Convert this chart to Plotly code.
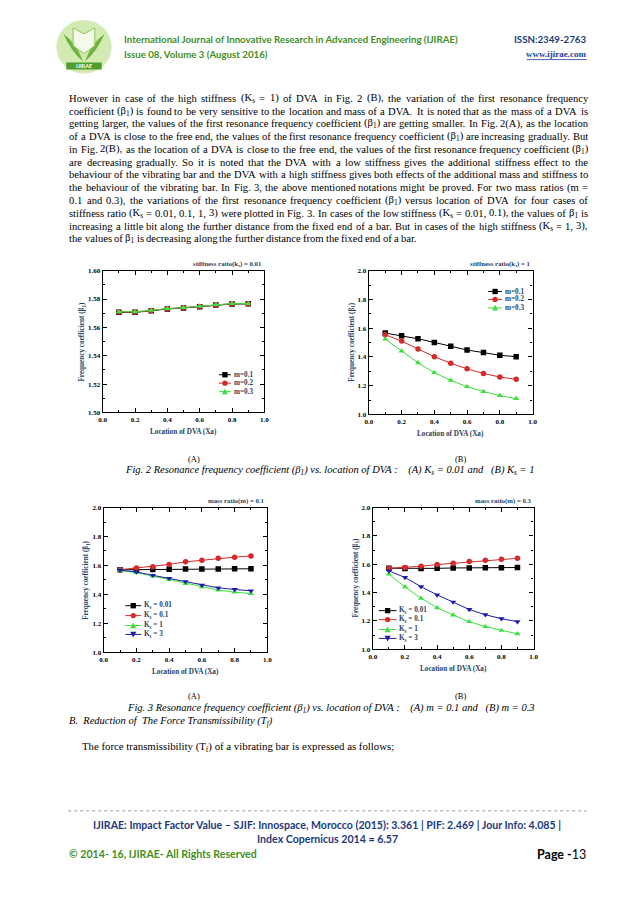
import plotly.graph_objects as go

W, H = 638, 903


def px(x):
    return x / W


def py(y):
    return 1 - y / H


# ---------------- data ----------------
x_loc = [0.1, 0.2, 0.3, 0.4, 0.5, 0.6, 0.7, 0.8, 0.9]
x_ticks = [0.0, 0.2, 0.4, 0.6, 0.8, 1.0]

# Fig. 2 (A) stiffness ratio ks = 0.01
a_m01 = [1.5706, 1.5706, 1.5717, 1.5730, 1.5737, 1.5746, 1.5758, 1.5765, 1.5766]
a_m02 = [1.5709, 1.5709, 1.5719, 1.5732, 1.5739, 1.5748, 1.5760, 1.5767, 1.5767]
a_m03 = [1.5710, 1.5710, 1.5720, 1.5733, 1.5740, 1.5749, 1.5761, 1.5768, 1.5768]

# Fig. 2 (B) stiffness ratio ks = 1
b_m01 = [1.566, 1.547, 1.526, 1.501, 1.474, 1.448, 1.430, 1.411, 1.402]
b_m02 = [1.554, 1.510, 1.455, 1.402, 1.356, 1.317, 1.285, 1.260, 1.244]
b_m03 = [1.524, 1.441, 1.359, 1.290, 1.237, 1.193, 1.159, 1.131, 1.110]

# Fig. 3 (A) mass ratio m = 0.1
c_k001 = [1.570, 1.571, 1.572, 1.574, 1.575, 1.575, 1.576, 1.577, 1.577]
c_k01 = [1.571, 1.582, 1.591, 1.607, 1.625, 1.636, 1.650, 1.657, 1.666]
c_k1 = [1.566, 1.550, 1.527, 1.502, 1.475, 1.452, 1.430, 1.416, 1.405]
c_k3 = [1.568, 1.555, 1.532, 1.511, 1.489, 1.464, 1.445, 1.434, 1.425]

# Fig. 3 (B) mass ratio m = 0.3
d_k001 = [1.572, 1.570, 1.570, 1.571, 1.574, 1.574, 1.576, 1.576, 1.577]
d_k01 = [1.572, 1.577, 1.586, 1.598, 1.607, 1.619, 1.628, 1.635, 1.642]
d_k1 = [1.530, 1.440, 1.360, 1.293, 1.242, 1.195, 1.160, 1.133, 1.109]
d_k3 = [1.553, 1.507, 1.442, 1.384, 1.333, 1.281, 1.244, 1.216, 1.195]

m_labels = ["m=0.1", "m=0.2", "m=0.3"]
k_labels = ["K<sub>s</sub> = 0.01", "K<sub>s</sub> = 0.1", "K<sub>s</sub> = 1", "K<sub>s</sub> = 3"]

BLACK, RED, GREEN, BLUE = "#000000", "#d42a2a", "#3de03d", "#1c1ca8"
SERIF = "Liberation Serif"
SANS = "Lato"

fig = go.Figure()

# panel geometry (pixels): x0, x1, y_top, y_bottom
panels = {
    "A": dict(ax="", box=(92, 256, 261, 404), yr=[1.50, 1.60], dt=0.02, mdt=0.01, fmt=".2f",
              title="stiffness ratio(k<sub>s</sub>) = 0.01"),
    "B": dict(ax="2", box=(362, 528, 261, 406), yr=[1.0, 2.0], dt=0.2, mdt=0.1, fmt=".1f",
              title="stiffness ratio(k<sub>s</sub>) = 1"),
    "C": dict(ax="3", box=(93, 259, 500, 646), yr=[1.0, 2.0], dt=0.2, mdt=0.1, fmt=".1f",
              title="mass ratio(m) = 0.1"),
    "D": dict(ax="4", box=(366, 529, 500, 643), yr=[1.0, 2.0], dt=0.2, mdt=0.1, fmt=".1f",
              title="mass ratio(m) = 0.3"),
}

series = {
    "A": [(m_labels[0], a_m01, BLACK, "square"), (m_labels[1], a_m02, RED, "circle"),
          (m_labels[2], a_m03, GREEN, "triangle-up")],
    "B": [(m_labels[0], b_m01, BLACK, "square"), (m_labels[1], b_m02, RED, "circle"),
          (m_labels[2], b_m03, GREEN, "triangle-up")],
    "C": [(k_labels[0], c_k001, BLACK, "square"), (k_labels[1], c_k01, RED, "circle"),
          (k_labels[2], c_k1, GREEN, "triangle-up"), (k_labels[3], c_k3, BLUE, "triangle-down")],
    "D": [(k_labels[0], d_k001, BLACK, "square"), (k_labels[1], d_k01, RED, "circle"),
          (k_labels[2], d_k1, GREEN, "triangle-up"), (k_labels[3], d_k3, BLUE, "triangle-down")],
}

annotations = []
shapes = []

tickfont = dict(family=SERIF, size=7, color="black", weight="bold")

for key, p in panels.items():
    ax = p["ax"]
    x0, x1, yt, yb = p["box"]
    for name, vals, col, sym in series[key]:
        fig.add_trace(go.Scatter(
            x=x_loc, y=vals, name=name, mode="lines+markers",
            line=dict(color=col, width=1),
            marker=dict(symbol=sym, size=5.5, color=col, line=dict(width=0)),
            xaxis="x" + ax, yaxis="y" + ax, showlegend=False))
    axcommon = dict(showline=True, linecolor="black", linewidth=1.3, mirror="allticks",
                    ticks="inside", ticklen=4, tickwidth=1, tickcolor="black",
                    showgrid=False, zeroline=False, tickfont=tickfont)
    fig.update_layout(**{
        "xaxis" + ax: dict(domain=[px(x0), px(x1)], range=[0, 1], tickvals=x_ticks,
                           ticktext=[f"{v:.1f}" for v in x_ticks], anchor="y" + ax,
                           minor=dict(ticks="inside", ticklen=2, dtick=0.1, tickcolor="black"),
                           **axcommon),
        "yaxis" + ax: dict(domain=[py(yb), py(yt)], range=p["yr"], dtick=p["dt"],
                           tickformat=p["fmt"], anchor="x" + ax,
                           minor=dict(ticks="inside", ticklen=2, dtick=p["mdt"], tickcolor="black"),
                           **axcommon),
    })
    # panel title
    annotations.append(dict(x=px(x1), y=py(yt - 7), xref="paper", yref="paper",
                            xanchor="right", yanchor="middle", showarrow=False,
                            text=p["title"], font=dict(family=SERIF, size=6.8, weight="bold")))
    # axis titles
    annotations.append(dict(x=px((x0 + x1) / 2), y=py(yb + 20), xref="paper", yref="paper",
                            xanchor="center", yanchor="middle", showarrow=False,
                            text="Location of DVA (Xa)",
                            font=dict(family=SERIF, size=7.2, weight="bold")))
    ytx = x0 - (20 if key == "A" else 17)
    annotations.append(dict(x=px(ytx), y=py((yt + yb) / 2), xref="paper", yref="paper",
                            xanchor="center", yanchor="middle", showarrow=False, textangle=-90,
                            text="Frequency coefficient (β<sub>1</sub>)",
                            font=dict(family=SERIF, size=7.2, weight="bold")))


# ------------- manual legends (sample glyphs) -------------
def add_legend(key, lx0, lx1, ys):
    for (name, vals, col, sym), yy in zip(series[key], ys):
        shapes.append(dict(type="line", xref="paper", yref="paper", x0=px(lx0), x1=px(lx1),
                           y0=py(yy), y1=py(yy), line=dict(color=col, width=1)))
        cx = (lx0 + lx1) / 2
        r = 2.7
        if sym == "square":
            shapes.append(dict(type="rect", xref="paper", yref="paper", x0=px(cx - r), x1=px(cx + r),
                               y0=py(yy + r), y1=py(yy - r), fillcolor=col, line=dict(width=0)))
        elif sym == "circle":
            shapes.append(dict(type="circle", xref="paper", yref="paper", x0=px(cx - r), x1=px(cx + r),
                               y0=py(yy + r), y1=py(yy - r), fillcolor=col, line=dict(width=0)))
        elif sym == "triangle-up":
            path = f"M {px(cx - r - 0.4)} {py(yy + r)} L {px(cx + r + 0.4)} {py(yy + r)} L {px(cx)} {py(yy - r - 0.4)} Z"
            shapes.append(dict(type="path", xref="paper", yref="paper", path=path,
                               fillcolor=col, line=dict(width=0)))
        else:
            path = f"M {px(cx - r - 0.4)} {py(yy - r)} L {px(cx + r + 0.4)} {py(yy - r)} L {px(cx)} {py(yy + r + 0.4)} Z"
            shapes.append(dict(type="path", xref="paper", yref="paper", path=path,
                               fillcolor=col, line=dict(width=0)))
        annotations.append(dict(x=px(lx1 + 2), y=py(yy), xref="paper", yref="paper",
                                xanchor="left", yanchor="middle", showarrow=False, borderpad=0,
                                text=name, font=dict(family=SERIF, size=7.2, weight="bold")))


add_legend("A", 210, 222, [366, 374.5, 383])
add_legend("B", 483, 497, [282, 290, 298.5])
add_legend("C", 115, 131, [599, 609, 619, 628])
add_legend("D", 372, 390, [604, 613, 623, 632])

# ------------- justified body text -------------
TW = {' ': 250, '!': 333, '(': 333, ')': 333, ',': 250, '-': 333, '.': 250, ':': 278, ';': 278,
      '=': 564, '?': 444, 'β': 500}
for ch in "0123456789":
    TW[ch] = 500
caps = dict(A=722, B=667, C=667, D=722, E=611, F=556, G=722, H=722, I=333, J=389, K=722, L=611,
            M=889, N=722, O=722, P=556, Q=722, R=667, S=556, T=611, U=722, V=722, W=944, X=722,
            Y=722, Z=611)
lows = dict(a=444, b=500, c=444, d=500, e=444, f=333, g=500, h=500, i=278, j=278, k=500, l=278,
            m=778, n=500, o=500, p=500, q=500, r=333, s=389, t=278, u=500, v=500, w=722, x=500,
            y=500, z=444)
TW.update(caps)
TW.update(lows)


def word_width(word, size):
    w = 0.0
    scale = 1.0
    i = 0
    while i < len(word):
        if word.startswith("<sub>", i):
            scale = 0.7
            i += 5
            continue
        if word.startswith("</sub>", i):
            scale = 1.0
            i += 6
            continue
        w += TW.get(word[i], 500) * scale
        i += 1
    return w * size / 1000.0


body_lines = [
    "However in case of the high stiffness (K<sub>s</sub> = 1) of DVA in Fig. 2 (B), the variation of the first resonance frequency",
    "coefficient (β<sub>1</sub>) is found to be very sensitive to the location and mass of a DVA. It is noted that as the mass of a DVA is",
    "getting larger, the values of the first resonance frequency coefficient (β<sub>1</sub>) are getting smaller. In Fig. 2(A), as the location",
    "of a DVA is close to the free end, the values of the first resonance frequency coefficient (β<sub>1</sub>) are increasing gradually. But",
    "in Fig. 2(B), as the location of a DVA is close to the free end, the values of the first resonance frequency coefficient (β<sub>1</sub>)",
    "are decreasing gradually. So it is noted that the DVA with a low stiffness gives the additional stiffness effect to the",
    "behaviour of the vibrating bar and the DVA with a high stiffness gives both effects of the additional mass and stiffness to",
    "the behaviour of the vibrating bar. In Fig. 3, the above mentioned notations might be proved. For two mass ratios (m =",
    "0.1 and 0.3), the variations of the first resonance frequency coefficient (β<sub>1</sub>) versus location of DVA for four cases of",
    "stiffness ratio (K<sub>s</sub> = 0.01, 0.1, 1, 3) were plotted in Fig. 3. In cases of the low stiffness (K<sub>s</sub> = 0.01, 0.1), the values of β<sub>1</sub> is",
    "increasing a little bit along the further distance from the fixed end of a bar. But in cases of the high stiffness (K<sub>s</sub> = 1, 3),",
    "the values of β<sub>1</sub> is decreasing along the further distance from the fixed end of a bar.",
]

BODY_SIZE = 10.6
LEFT, RIGHT = 57, 583
for li, line in enumerate(body_lines):
    yy = 87 + li * 12.9
    words = line.split(" ")
    widths = [word_width(w, BODY_SIZE) for w in words]
    if li < len(body_lines) - 1 and len(words) > 1:
        gap = (RIGHT - LEFT - sum(widths)) / (len(words) - 1)
    else:
        gap = 250 * BODY_SIZE / 1000.0
    xx = LEFT
    for w, ww in zip(words, widths):
        annotations.append(dict(x=px(xx), y=py(yy), xref="paper", yref="paper", xanchor="left",
                                yanchor="middle", showarrow=False, borderpad=0, text=w,
                                font=dict(family=SERIF, size=BODY_SIZE, color="black")))
        xx += ww + gap


def txt(x, y, text, size, color="black", anchor="left", family=SERIF, weight="normal"):
    annotations.append(dict(x=px(x), y=py(y), xref="paper", yref="paper", xanchor=anchor,
                            yanchor="middle", showarrow=False, borderpad=0, text=text,
                            font=dict(family=family, size=size, color=color, weight=weight)))


# captions
txt(178, 451, "(A)", 8.5)
txt(448, 451, "(B)", 8.5)
txt(323, 463, "<i>Fig. 2 Resonance frequency coefficient (β<sub>1</sub>) vs. location of DVA :\u00a0\u00a0\u00a0\u00a0(A) K<sub>s</sub> = 0.01 and\u00a0\u00a0\u00a0(B) K<sub>s</sub> = 1</i>",
    10.5, anchor="center")
txt(178, 690, "(A)", 8.5)
txt(448, 690, "(B)", 8.5)
txt(324, 703, "<i>Fig. 3 Resonance frequency coefficient (β<sub>1</sub>) vs. location of DVA :\u00a0\u00a0\u00a0\u00a0(A) m = 0.1 and\u00a0\u00a0\u00a0(B) m = 0.3</i>",
    10.5, anchor="center")
txt(57, 716, "<i>B.\u00a0\u00a0Reduction of\u00a0\u00a0The Force Transmissibility (T<sub>f</sub>)</i>", 10.5)
txt(70, 742, "The force transmissibility (T<sub>f</sub>) of a vibrating bar is expressed as follows;", 10.8)

# header
GREEN_H = "#3f8f25"
BLUE_H = "#1c3a80"
txt(113, 27, "International Journal of Innovative Research in Advanced Engineering (IJIRAE)", 9.7,
    color=GREEN_H, family=SANS, weight="bold")
txt(583, 27, "ISSN:2349-2763", 9.7, color=BLUE_H, family=SANS, weight="bold", anchor="right")
txt(113, 42, "Issue 08, Volume 3 (August 2016)", 9.7, color=GREEN_H, family=SANS, weight="bold")
txt(583, 42, "www.ijirae.com", 9, color="#1c3fa0", family=SERIF, weight="bold", anchor="right")
shapes.append(dict(type="line", xref="paper", yref="paper", x0=px(522), x1=px(583),
                   y0=py(48), y1=py(48), line=dict(color="#1c3fa0", width=0.8)))

# logo (decorative emblem)
shapes.append(dict(type="circle", xref="paper", yref="paper", x0=px(45), x1=px(101),
                   y0=py(62), y1=py(8), fillcolor="#d3ebb2", line=dict(width=0)))
shapes.append(dict(type="path", xref="paper", yref="paper",
                   path=f"M {px(52)} {py(22)} Q {px(60)} {py(40)} {px(72)} {py(50)} Q {px(66)} {py(32)} {px(52)} {py(22)} Z",
                   fillcolor="#6cb33f", line=dict(width=0)))
shapes.append(dict(type="path", xref="paper", yref="paper",
                   path=f"M {px(94)} {py(22)} Q {px(86)} {py(40)} {px(74)} {py(50)} Q {px(80)} {py(32)} {px(94)} {py(22)} Z",
                   fillcolor="#6cb33f", line=dict(width=0)))
shapes.append(dict(type="path", xref="paper", yref="paper",
                   path=f"M {px(62)} {py(16)} L {px(73)} {py(22)} L {px(84)} {py(16)} L {px(84)} {py(34)} L {px(73)} {py(42)} L {px(62)} {py(34)} Z",
                   fillcolor="#f4f9ea", line=dict(color="#8cc65a", width=1)))
shapes.append(dict(type="rect", xref="paper", yref="paper", x0=px(55), x1=px(91),
                   y0=py(58), y1=py(51), fillcolor="#4f9e2e", line=dict(width=0)))
txt(73, 54.5, "IJIRAE", 5.5, color="white", family=SANS, weight="bold", anchor="center")

# footer
shapes.append(dict(type="line", xref="paper", yref="paper", x0=px(57), x1=px(583),
                   y0=py(806), y1=py(806), line=dict(color="#9a9a9a", width=1, dash="dot")))
txt(320, 820, "IJIRAE: Impact Factor Value – SJIF: Innospace, Morocco (2015): 3.361 | PIF: 2.469 | Jour Info: 4.085 |",
    10.6, color=BLUE_H, family=SANS, weight="bold", anchor="center")
txt(320, 834, "Index Copernicus 2014 = 6.57", 10.6, color=BLUE_H, family=SANS, weight="bold", anchor="center")
txt(57, 850, "© 2014- 16, IJIRAE- All Rights Reserved", 10.6, color=GREEN_H, family=SANS, weight="bold")
txt(583, 850, "<b>Page -</b>13", 12.5, color="black", family=SANS, anchor="right")

fig.update_layout(width=W, height=H, margin=dict(l=0, r=0, t=0, b=0),
                  paper_bgcolor="white", plot_bgcolor="white",
                  annotations=annotations, shapes=shapes, showlegend=False)

fig.write_html("out.html")
